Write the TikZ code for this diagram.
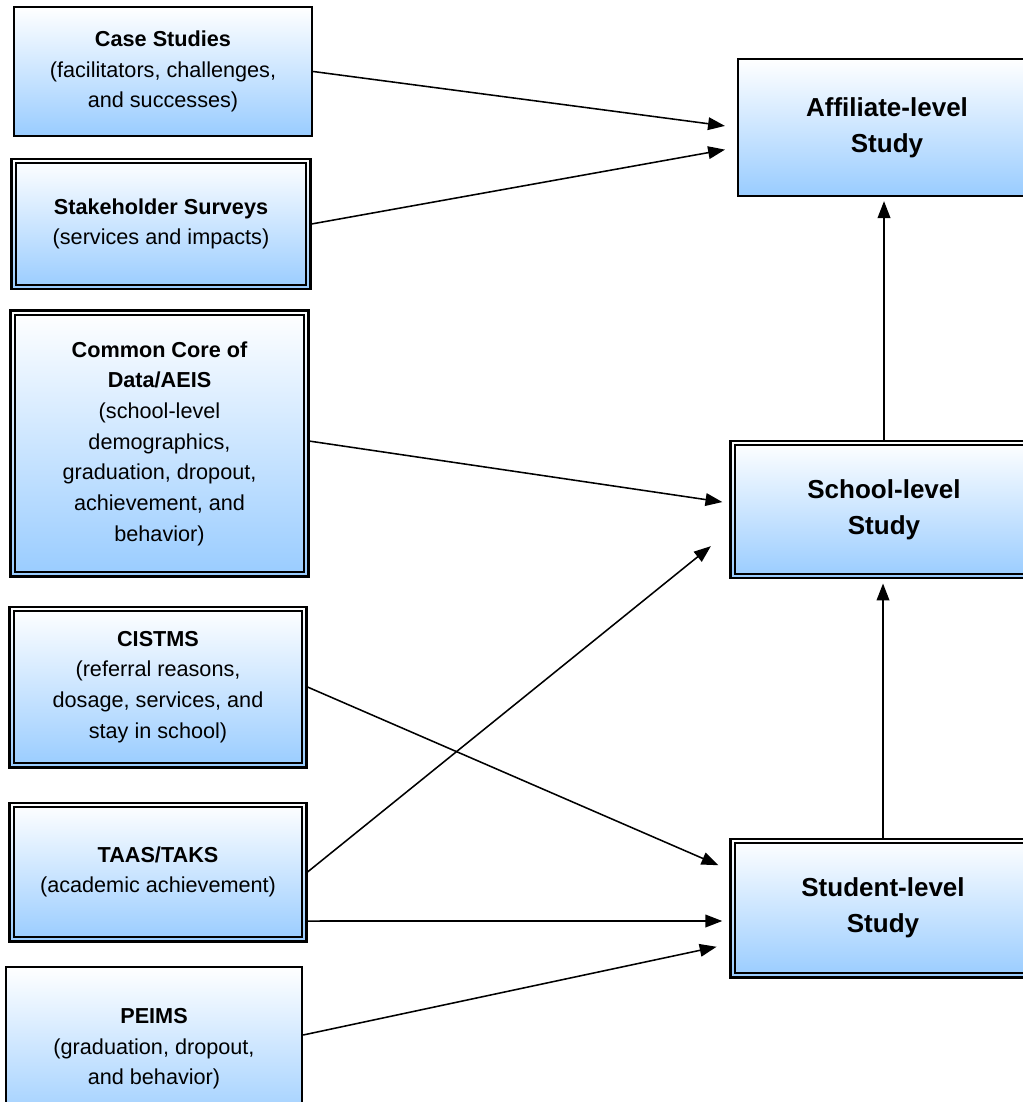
\documentclass[tikz,border=0pt]{standalone}
\usepackage{fontspec}
\setmainfont{Liberation Sans}
\usetikzlibrary{arrows.meta}

\definecolor{boxblue}{RGB}{153,204,255}

\tikzset{
  srcbox/.style={rectangle, draw=black, line width=1.6pt, top color=white, bottom color=boxblue,
    align=center, inner sep=0pt, font=\fontsize{15.4}{21.8}\selectfont},
  srcdbl/.style={srcbox, line width=2.1pt,
    path picture={\draw[line width=1.1pt]
      ([shift={(2.9pt,-2.9pt)}]path picture bounding box.north west) rectangle
      ([shift={(-2.9pt,2.9pt)}]path picture bounding box.south east);}},
  studybox/.style={srcbox, font=\bfseries\fontsize{18.5}{25.6}\selectfont},
  studydbl/.style={srcdbl, font=\bfseries\fontsize{18.5}{25.6}\selectfont},
  flow/.style={-{Triangle[length=12pt,width=9pt]}, line width=1.1pt}
}

\begin{document}
\begin{tikzpicture}[x=0.025cm, y=-0.025cm]
    \path[use as bounding box, clip] (0,0) rectangle (1023,1102);

    % Data sources on the left
    \node[srcbox, minimum width=7.45cm, minimum height=3.225cm] (case) at (163,71.5)
        {\textbf{Case Studies}\\(facilitators, challenges,\\and successes)};
    \node[srcdbl, minimum width=7.45cm, minimum height=3.25cm] (survey) at (161,224)
        {\textbf{Stakeholder Surveys}\\(services and impacts)};
    \node[srcdbl, minimum width=7.425cm, minimum height=6.625cm] (ccd) at (159.5,443.5)
        {\textbf{Common Core of}\\\textbf{Data/AEIS}\\(school-level\\demographics,\\graduation, dropout,\\achievement, and\\behavior)};
    \node[srcdbl, minimum width=7.4cm, minimum height=4cm] (cistms) at (158,687)
        {\textbf{CISTMS}\\(referral reasons,\\dosage, services, and\\stay in school)};
    \node[srcdbl, minimum width=7.4cm, minimum height=3.45cm] (taas) at (158,872)
        {\textbf{TAAS/TAKS}\\(academic achievement)};
    \node[srcbox, minimum width=7.4cm, minimum height=4.1cm] (peims) at (154,1049)
        {\textbf{PEIMS}\\(graduation, dropout,\\and behavior)};

    % Study levels on the right
    \node[studybox, minimum width=7.45cm, minimum height=3.425cm] (aff) at (887,127.5)
        {Affiliate-level\\Study};
    \node[studydbl, minimum width=7.65cm, minimum height=3.425cm] (school) at (884,509.5)
        {School-level\\Study};
    \node[studydbl, minimum width=7.6cm, minimum height=3.45cm] (student) at (883,908)
        {Student-level\\Study};

    % Connectors
    \draw[flow, shorten >=0.3cm] (case.east) -- (aff.west);
    \draw[flow, shorten >=0.3cm] (survey.east) -- ([yshift=-0.5cm]aff.west);
    \draw[flow, shorten >=0.18cm] ([yshift=0.06cm]ccd.east) -- ([yshift=0.16cm]school.west);
    \draw[flow, shorten >=0.6cm] (taas.east) -- ([yshift=-0.54cm]school.west);
    \draw[flow, shorten >=0.3cm] (cistms.east) -- ([yshift=0.95cm]student.west);
    \draw[flow, shorten >=0.18cm] ([yshift=-1.225cm]taas.east) -- ([yshift=-0.325cm]student.west);
    \draw[flow, shorten >=0.33cm] ([yshift=0.35cm]peims.east) -- ([yshift=-0.9cm]student.west);
    \draw[flow, shorten >=0.1cm] (school.north) -- (school.north |- aff.south);
    \draw[flow, shorten >=0.1cm] (student.north) -- (student.north |- school.south);
\end{tikzpicture}
\end{document}
